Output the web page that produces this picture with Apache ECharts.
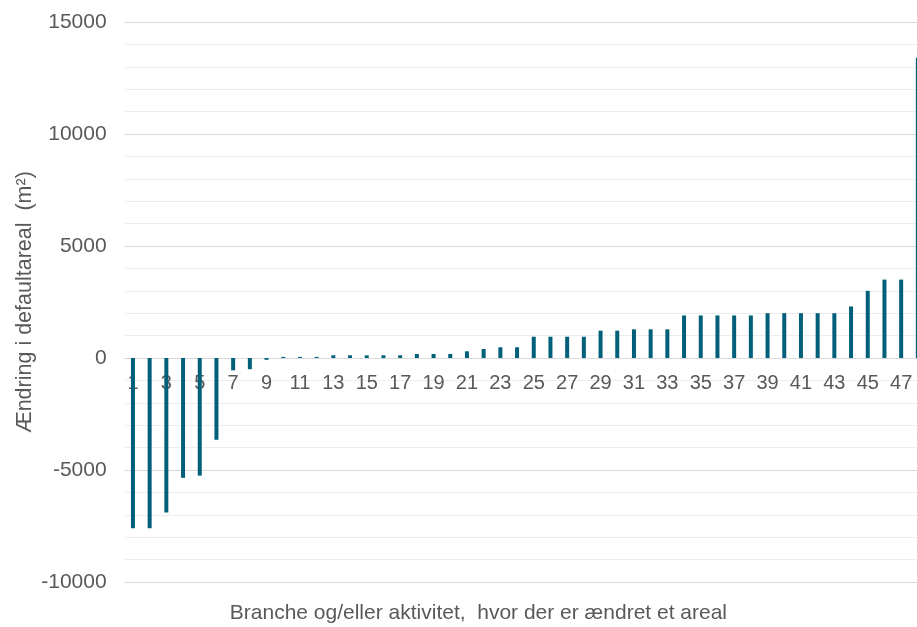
<!DOCTYPE html>
<html>
<head>
<meta charset="utf-8">
<script src="https://cdn.jsdelivr.net/npm/echarts@6/dist/echarts.min.js"></script>
<style>
html,body{margin:0;padding:0;background:#fff;}
#chart{width:917px;height:627px;}
</style>
</head>
<body>
<div id="chart"></div>
<script>
var categories = ['1','2','3','4','5','6','7','8','9','10','11','12','13','14','15','16','17','18','19','20','21','22','23','24','25','26','27','28','29','30','31','32','33','34','35','36','37','38','39','40','41','42','43','44','45','46','47','48'];
var values = [-7600,-7600,-6900,-5350,-5250,-3650,-550,-500,-80,50,50,50,120,120,120,120,120,180,180,180,300,400,480,480,950,950,950,950,1220,1220,1280,1280,1280,1900,1900,1900,1900,1900,2000,2000,2000,2000,2000,2300,3000,3500,3500,13400];
var yTitle = 'Ændring i defaultareal  (m²)';
var xTitle = 'Branche og/eller aktivitet,  hvor der er ændret et areal';

var chart = echarts.init(document.getElementById('chart'), null, {renderer:'canvas'});
var font = 'Liberation Sans, Arial, sans-serif';
chart.setOption({
  animation: false,
  backgroundColor: '#ffffff',
  grid: {left: 124.6, top: 22, width: 801.6, height: 560, containLabel: false, outerBoundsMode: 'none'},
  xAxis: {
    type: 'category',
    data: categories,
    position: 'bottom',
    offset: -224,
    z: 0,
    name: xTitle,
    nameLocation: 'middle',
    nameGap: 245,
    nameMoveOverlap: false,
    nameTextStyle: {fontFamily: font, fontSize: 21, color: '#595959', padding: [0, 94, 0, 0], verticalAlign: 'top', lineHeight: 21},
    axisLine: {onZero: false, lineStyle: {color: '#d9d9d9', width: 1}},
    axisTick: {show: false},
    axisLabel: {interval: 1, fontFamily: font, fontSize: 20, color: '#595959', margin: 15},
    splitLine: {show: false}
  },
  yAxis: {
    type: 'value',
    min: -10000,
    max: 15000,
    interval: 5000,
    name: yTitle,
    nameLocation: 'middle',
    nameGap: 89,
    nameMoveOverlap: false,
    nameTextStyle: {fontFamily: font, fontSize: 21.5, color: '#595959'},
    axisLine: {show: false},
    axisTick: {show: false},
    axisLabel: {fontFamily: font, fontSize: 21, color: '#595959', margin: 18, formatter: function (v) { return String(v); }},
    splitLine: {show: true, lineStyle: {color: '#d9d9d9', width: 1}},
    minorTick: {show: false, splitNumber: 5},
    minorSplitLine: {show: true, lineStyle: {color: '#ededed', width: 1}}
  },
  series: [{
    type: 'bar',
    data: values,
    barWidth: 4,
    z: 10,
    itemStyle: {color: '#00607a'}
  }]
});
</script>
</body>
</html>
